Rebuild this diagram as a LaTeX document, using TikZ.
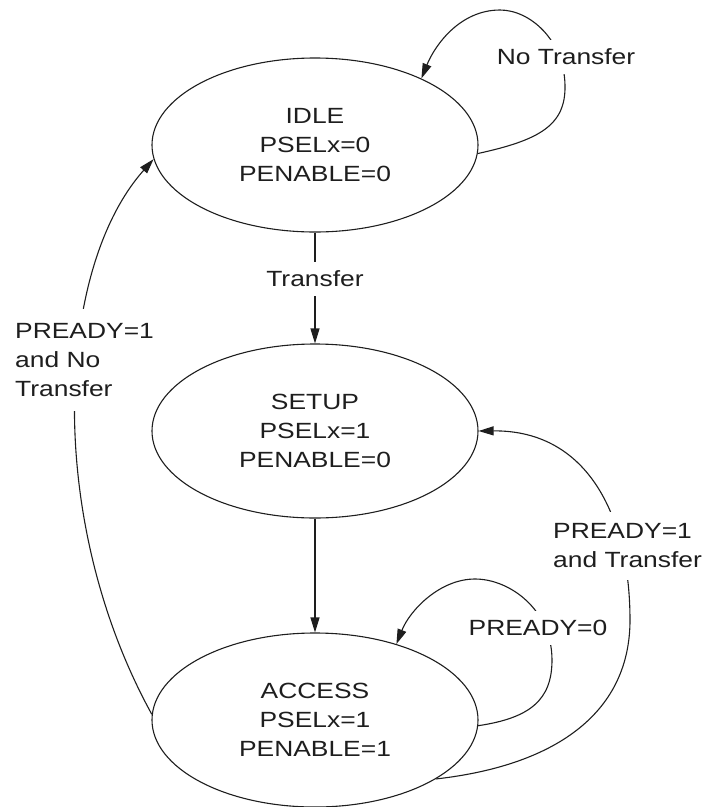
\documentclass[tikz,border=0pt]{standalone}
\usepackage{fontspec}
\setmainfont{Liberation Sans}[FakeStretch=1.2]
\usetikzlibrary{shapes.geometric,arrows.meta}
\definecolor{ink}{HTML}{1E1E1E}
\newcommand\statefont{\fontsize{22}{29}\selectfont}
\begin{document}
\begin{tikzpicture}[x=1pt,y=-1pt,
  state/.style={draw=ink, line width=1.1pt, ellipse, minimum width=326pt, minimum height=174pt,
                inner sep=0pt, align=center, font=\statefont, text=ink},
  conn/.style={draw=ink, line width=1.1pt, -{Triangle[length=15pt,width=9pt]}},
  lbl/.style={fill=white, text=ink, font=\statefont, inner xsep=2pt, inner ysep=9pt}]
\useasboundingbox (0,0) rectangle (713,807);

\node[state] (idle)   at (315,145) {IDLE\\PSELx=0\\PENABLE=0};
\node[state] (setup)  at (315,431) {SETUP\\PSELx=1\\PENABLE=0};
\node[state] (access) at (315,720) {ACCESS\\PSELx=1\\PENABLE=1};

% IDLE -> SETUP
\draw[conn] (idle.south) -- node[lbl, pos=0.42] (ltr) {Transfer} (setup.north);
% SETUP -> ACCESS
\draw[conn] (setup.south) -- (access.north);

% IDLE self loop
\draw[conn] (idle.-3) .. controls (540,140) and (566,125) .. (565,85)
  .. controls (564,40) and (530,10) .. (500,10)
  .. controls (460,10) and (435,45) .. (idle.32);
\node[lbl] (lnt) at (566,57) {No Transfer};

% ACCESS -> IDLE
\draw[conn] (access.178) .. controls (45,520) and (55,270) .. (idle.185);
\node[lbl, align=left, anchor=west, inner xsep=0pt, inner ysep=14pt] (lpn) at (15,360)
  {PREADY=1\\and No\\Transfer};

% ACCESS -> SETUP
\draw[conn] (access.-26) .. controls (560,765) and (630,710) .. (630,620)
  .. controls (630,520) and (590,430) .. (setup.east);
\node[lbl, align=left, anchor=west, inner xsep=0pt, inner ysep=12pt] (lpt) at (553,546)
  {PREADY=1\\and Transfer};

% ACCESS self loop
\draw[conn] (access.-2) .. controls (530,718) and (552,700) .. (552,660)
  .. controls (552,610) and (510,579) .. (475,579)
  .. controls (440,579) and (410,610) .. (access.43);
\node[lbl] (lp0) at (538,628) {PREADY=0};
\end{tikzpicture}
\end{document}
